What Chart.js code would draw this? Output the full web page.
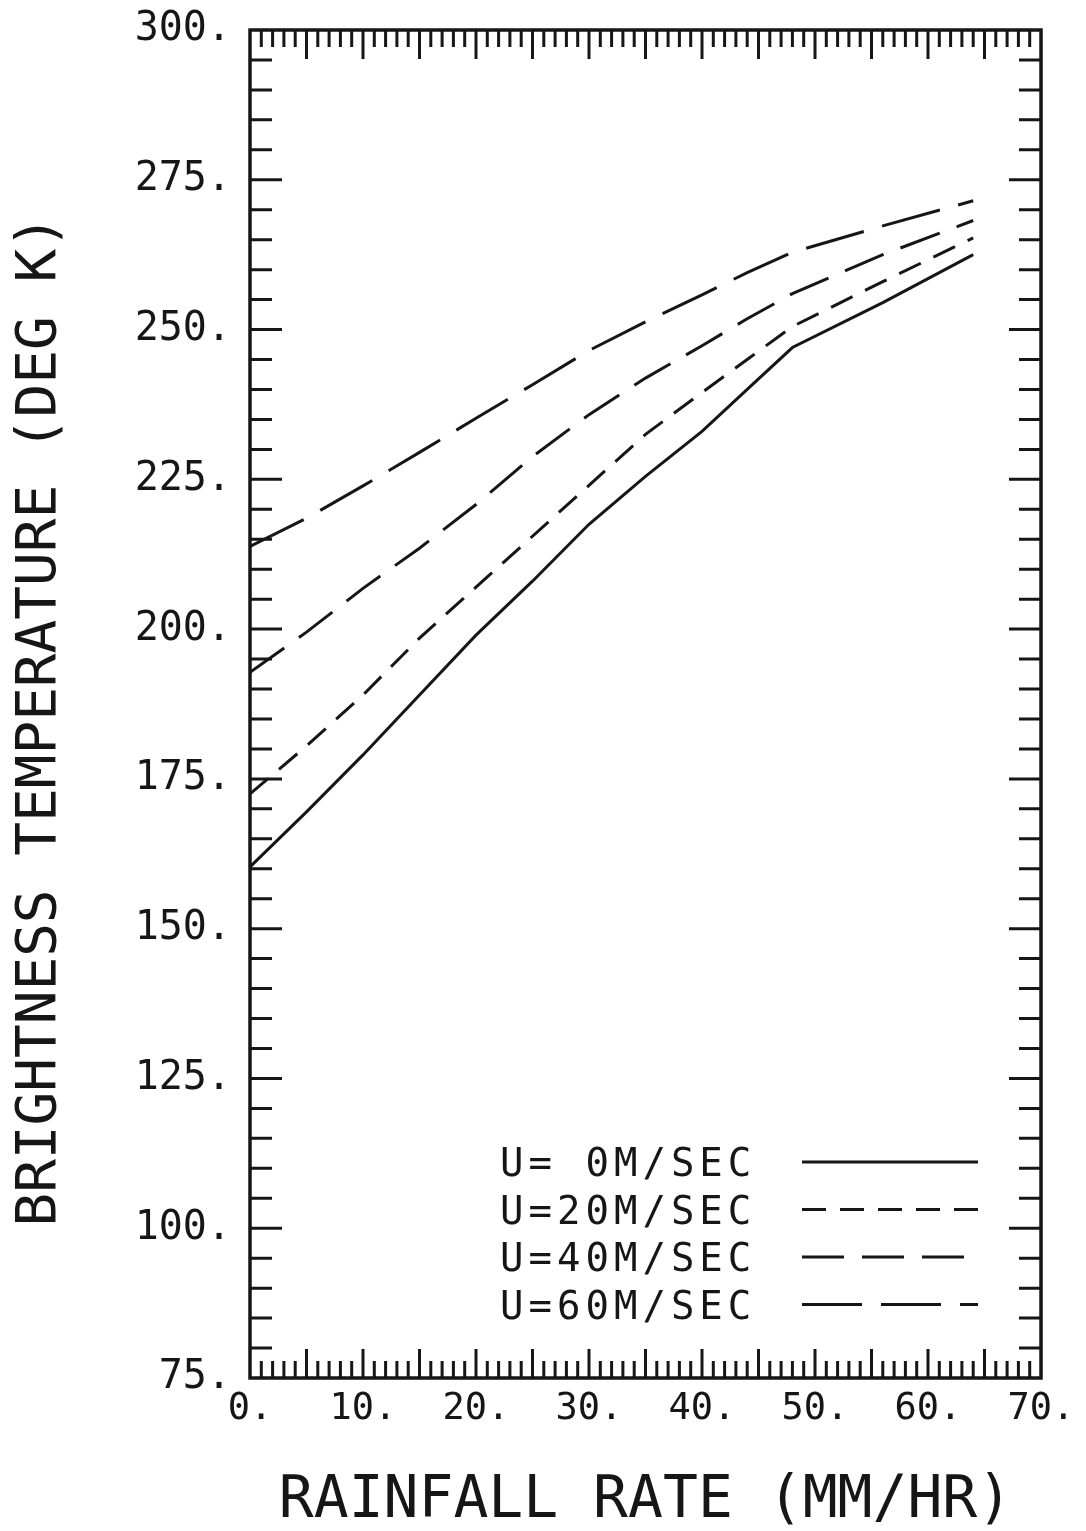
<!DOCTYPE html>
<html>
<head>
<meta charset="utf-8">
<script src="https://cdn.jsdelivr.net/npm/chart.js@4.4.1/dist/chart.umd.min.js"></script>
<style>
html,body{margin:0;padding:0;background:#fff;}
canvas{display:block;}
</style>
</head>
<body>
<canvas id="c" width="1086" height="1531"></canvas>
<script>
// ---- data ----
const rainfallRate = [0, 5, 10, 15, 20, 25, 30, 35, 40, 44, 48, 56, 64];
const tbU0  = [160.3, 169.5, 179.0, 189.0, 199.0, 208.0, 217.5, 225.5, 233.0, 240.0, 247.0, 254.5, 262.5];
const tbU20 = [172.5, 180.5, 189.0, 198.5, 207.0, 215.5, 224.0, 232.5, 239.5, 245.0, 250.5, 258.0, 265.3];
const tbU40 = [192.8, 199.5, 206.8, 213.5, 220.8, 228.8, 235.8, 241.9, 247.3, 251.8, 256.0, 262.5, 268.2];
const tbU60 = [213.8, 218.5, 223.9, 229.5, 235.2, 240.8, 246.5, 251.3, 255.8, 259.5, 262.9, 267.3, 271.5];
const seriesLabels = ['U= 0M/SEC', 'U=20M/SEC', 'U=40M/SEC', 'U=60M/SEC'];
const xTickLabels = ['0.', '10.', '20.', '30.', '40.', '50.', '60.', '70.'];
const yTickLabels = ['75.', '100.', '125.', '150.', '175.', '200.', '225.', '250.', '275.', '300.'];
const xTitle = 'RAINFALL RATE (MM/HR)';
const yTitle = 'BRIGHTNESS TEMPERATURE (DEG K) ';

const INK = '#161616';
const FONT = '"DejaVu Sans Mono", "Liberation Mono", monospace';

function pts(ys){ return rainfallRate.map((x,i)=>({x:x, y:ys[i]})); }

const dashes = [[], [24,14], [42,18], [60,19]];
const seriesData = [tbU0, tbU20, tbU40, tbU60];

const datasets = seriesData.map((d,i)=>({
  label: seriesLabels[i],
  data: pts(d),
  borderColor: INK,
  borderWidth: 3,
  borderDash: dashes[i],
  pointRadius: 0,
  fill: false,
  tension: 0
}));

// frame + inward ticks on all four sides
const framePlugin = {
  id: 'frame',
  afterDatasetsDraw(chart){
    const {ctx, chartArea: a, scales} = chart;
    const xs = scales.x, ys = scales.y;
    ctx.save();
    ctx.strokeStyle = INK;
    ctx.lineCap = 'butt';
    ctx.lineWidth = 3;
    for (let v = 1; v < 70; v++){
      const px = xs.getPixelForValue(v);
      const len = (v % 5 === 0) ? 29 : 17;
      ctx.beginPath();
      ctx.moveTo(px, a.bottom); ctx.lineTo(px, a.bottom - len);
      ctx.moveTo(px, a.top); ctx.lineTo(px, a.top + len);
      ctx.stroke();
    }
    for (let v = 80; v < 300; v += 5){
      const py = ys.getPixelForValue(v);
      const len = (v % 25 === 0) ? 32 : 22;
      ctx.beginPath();
      ctx.moveTo(a.left, py); ctx.lineTo(a.left + len, py);
      ctx.moveTo(a.right, py); ctx.lineTo(a.right - len, py);
      ctx.stroke();
    }
    ctx.lineWidth = 3.5;
    ctx.strokeRect(a.left, a.top, a.right - a.left, a.bottom - a.top);
    ctx.restore();
  }
};

// legend inside the plot, text left and line sample right
const legendPlugin = {
  id: 'plotLegend',
  afterDatasetsDraw(chart){
    const {ctx, chartArea: a} = chart;
    ctx.save();
    ctx.font = '39px ' + FONT;
    try { ctx.letterSpacing = '5px'; } catch(e) {}
    ctx.fillStyle = INK;
    ctx.textAlign = 'left';
    ctx.textBaseline = 'alphabetic';
    chart.data.datasets.forEach((ds, i) => {
      const cy = a.bottom - 216 + i * 47.5;
      ctx.fillText(ds.label, a.left + 250, cy + 14);
      ctx.beginPath();
      ctx.setLineDash(ds.borderDash || []);
      ctx.lineDashOffset = 0;
      ctx.strokeStyle = INK;
      ctx.lineWidth = 3;
      ctx.moveTo(a.left + 552, cy);
      ctx.lineTo(a.left + 728, cy);
      ctx.stroke();
    });
    ctx.restore();
  }
};

new Chart(document.getElementById('c'), {
  type: 'line',
  data: { datasets: datasets },
  options: {
    responsive: false,
    animation: false,
    events: [],
    layout: { padding: { top: 30, right: 45, left: 0, bottom: 0 } },
    plugins: { legend: { display: false }, tooltip: { enabled: false } },
    scales: {
      x: {
        type: 'linear', min: 0, max: 70,
        afterFit(s){ s.height = 153; },
        grid: { display: true, drawOnChartArea: false, drawTicks: true, tickLength: 9, tickColor: 'rgba(0,0,0,0)' },
        border: { display: false },
        ticks: {
          stepSize: 10, padding: 0, color: INK, maxRotation: 0, autoSkip: false,
          font: { family: FONT, size: 37 },
          callback: (v, i) => xTickLabels[i]
        },
        title: {
          display: true, text: xTitle, color: INK,
          font: { family: FONT, size: 58, lineHeight: 1 },
          padding: { top: 0, bottom: 0 }
        }
      },
      y: {
        type: 'linear', min: 75, max: 300,
        afterFit(s){ s.width = 250; },
        grid: { display: true, drawOnChartArea: false, drawTicks: true, tickLength: 19, tickColor: 'rgba(0,0,0,0)' },
        border: { display: false },
        ticks: {
          stepSize: 25, padding: 0, color: INK,
          font: { family: FONT, size: 40 },
          callback: (v, i) => yTickLabels[i]
        },
        title: {
          display: true, text: yTitle, color: INK,
          font: { family: FONT, size: 56, lineHeight: 1 },
          padding: { top: 12, bottom: 0 }
        }
      }
    }
  },
  plugins: [framePlugin, legendPlugin]
});
</script>
</body>
</html>
